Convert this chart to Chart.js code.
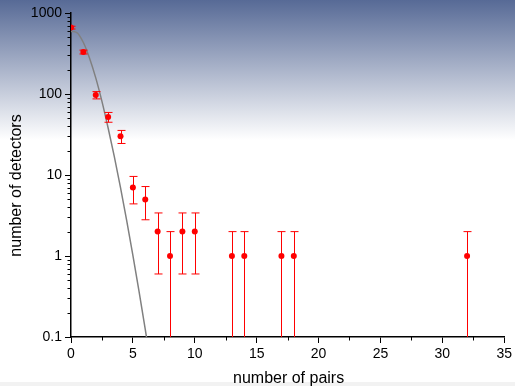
<!DOCTYPE html>
<html><head><meta charset="utf-8">
<script src="https://cdn.jsdelivr.net/npm/chart.js@4/dist/chart.umd.min.js"></script>
<style>html,body{margin:0;padding:0;background:#fff;overflow:hidden}#wrap{width:515px;height:386px}</style>
</head><body><div id="wrap"><canvas id="c" width="515" height="386"></canvas></div>
<script>
// ---- data ----
const pairs = [0, 1, 2, 3, 4, 5, 6, 7, 8, 9, 10, 13, 14, 17, 18, 32];
const detectors = [660, 330, 97, 52, 30, 7, 5, 2, 1, 2, 2, 1, 1, 1, 1, 1];
const detectorErr = [26, 18, 10, 7.2, 5.5, 2.6, 2.2, 1.4, 1, 1.4, 1.4, 1, 1, 1, 1, 1];
const fitX = [0, 0.5, 1, 1.5, 2, 2.5, 3, 3.5, 4, 4.5, 5, 5.5, 6, 6.5];
const fitY = [592, 570, 432, 277, 158, 81, 38, 16.9, 7.0, 2.74, 1.02, 0.364, 0.124, 0.041];
const xTicks = [0, 5, 10, 15, 20, 25, 30, 35];
const xMinorTicks = [2.5, 7.5, 12.5, 17.5, 22.5, 27.5, 32.5];
const yTicks = [0.1, 1, 10, 100, 1000];
const yMinorTicks = [0.2,0.3,0.4,0.5,0.6,0.7,0.8,0.9, 2,3,4,5,6,7,8,9, 20,30,40,50,60,70,80,90, 200,300,400,500,600,700,800,900];
const xTitle = 'number of pairs';
const yTitle = 'number of detectors';

const FONT = "'Liberation Sans', Arial, Helvetica, sans-serif";
Chart.defaults.font.family = FONT;
Chart.defaults.color = '#000';

const bgPlugin = {
  id: 'bg',
  beforeDraw(chart) {
    const ctx = chart.ctx;
    ctx.save();
    const g = ctx.createLinearGradient(0, 0, 0, 140);
    g.addColorStop(0, '#576a96');
    g.addColorStop(1, '#ffffff');
    ctx.fillStyle = '#ffffff';
    ctx.fillRect(0, 0, chart.width, chart.height);
    ctx.fillStyle = g;
    ctx.fillRect(0, 0, chart.width, 140);
    ctx.fillStyle = '#f2f2f2';
    ctx.fillRect(0, 382, chart.width, 4);
    ctx.restore();
  }
};

const errPlugin = {
  id: 'errbars',
  beforeDatasetDraw(chart, args) {
    if (args.index !== 0) return;
    const ctx = chart.ctx, xs = chart.scales.x, ys = chart.scales.y, a = chart.chartArea;
    ctx.save();
    ctx.beginPath();
    ctx.rect(a.left, a.top, a.right - a.left, a.bottom - a.top);
    ctx.clip();
    ctx.strokeStyle = '#ff0000';
    ctx.lineWidth = 1;
    for (let i = 0; i < pairs.length; i++) {
      const px = Math.round(xs.getPixelForValue(pairs[i])) + 0.5;
      const hi = detectors[i] + detectorErr[i];
      const lo = detectors[i] - detectorErr[i];
      const pyHi = ys.getPixelForValue(hi);
      const pyLo = lo > 0 ? ys.getPixelForValue(lo) : a.bottom + 5;
      ctx.beginPath();
      ctx.moveTo(px, pyHi); ctx.lineTo(px, pyLo);
      ctx.moveTo(px - 4, pyHi); ctx.lineTo(px + 4, pyHi);
      if (lo > 0) { ctx.moveTo(px - 4, pyLo); ctx.lineTo(px + 4, pyLo); }
      ctx.stroke();
    }
    ctx.restore();
  }
};

const decoPlugin = {
  id: 'deco',
  afterDraw(chart) {
    const ctx = chart.ctx, xs = chart.scales.x, ys = chart.scales.y, a = chart.chartArea;
    ctx.save();
    ctx.strokeStyle = '#000';
    ctx.lineWidth = 1;
    ctx.beginPath();
    xMinorTicks.forEach(v => {
      const p = Math.round(xs.getPixelForValue(v)) + 0.5;
      ctx.moveTo(p, a.bottom); ctx.lineTo(p, a.bottom + 3.5);
    });
    yMinorTicks.forEach(v => {
      const p = Math.round(ys.getPixelForValue(v)) + 0.5;
      ctx.moveTo(a.left, p); ctx.lineTo(a.left - 3.5, p);
    });
    ctx.stroke();
    ctx.fillStyle = '#000';
    ctx.font = '16px ' + FONT;
    ctx.textAlign = 'center';
    ctx.textBaseline = 'alphabetic';
    ctx.fillText(xTitle, (a.left + a.right) / 2 + 1, 383);
    ctx.translate(21, 185.5);
    ctx.rotate(-Math.PI / 2);
    ctx.fillText(yTitle, 0, 0);
    ctx.restore();
  }
};

new Chart(document.getElementById('c'), {
  type: 'scatter',
  data: {
    datasets: [
      {
        data: pairs.map((x, i) => ({ x, y: detectors[i] })),
        backgroundColor: '#ff0000',
        borderWidth: 0,
        pointRadius: 3,
        clip: 0
      },
      {
        data: fitX.map((x, i) => ({ x, y: fitY[i] })),
        showLine: true,
        borderColor: '#808080',
        borderWidth: 1.5,
        pointRadius: 0,
        cubicInterpolationMode: 'monotone',
        clip: 0
      }
    ]
  },
  options: {
    responsive: false,
    animation: false,
    devicePixelRatio: 1,
    layout: { padding: { top: 13, right: 9, left: 0, bottom: 0 } },
    plugins: { legend: { display: false }, tooltip: { enabled: false } },
    scales: {
      x: {
        type: 'linear', position: 'bottom', min: 0, max: 35,
        afterBuildTicks: s => { s.ticks = xTicks.map(v => ({ value: v })); },
        afterFit: s => { s.height = 49; },
        ticks: { font: { size: 14 }, color: '#000', padding: 3, maxRotation: 0 },
        grid: { drawOnChartArea: false, drawTicks: true, tickLength: 6, tickColor: '#000', tickWidth: 1 },
        border: { display: true, color: '#000', width: 1.5 }
      },
      y: {
        type: 'logarithmic', position: 'left', min: 0.1, max: 1000,
        afterBuildTicks: s => { s.ticks = yTicks.map(v => ({ value: v })); },
        afterFit: s => { s.width = 71; },
        ticks: { font: { size: 14 }, color: '#000', padding: 3, callback: v => String(v) },
        grid: { drawOnChartArea: false, drawTicks: true, tickLength: 6, tickColor: '#000', tickWidth: 1 },
        border: { display: true, color: '#000', width: 1.5 }
      }
    }
  },
  plugins: [bgPlugin, errPlugin, decoPlugin]
});
</script>
</body></html>
